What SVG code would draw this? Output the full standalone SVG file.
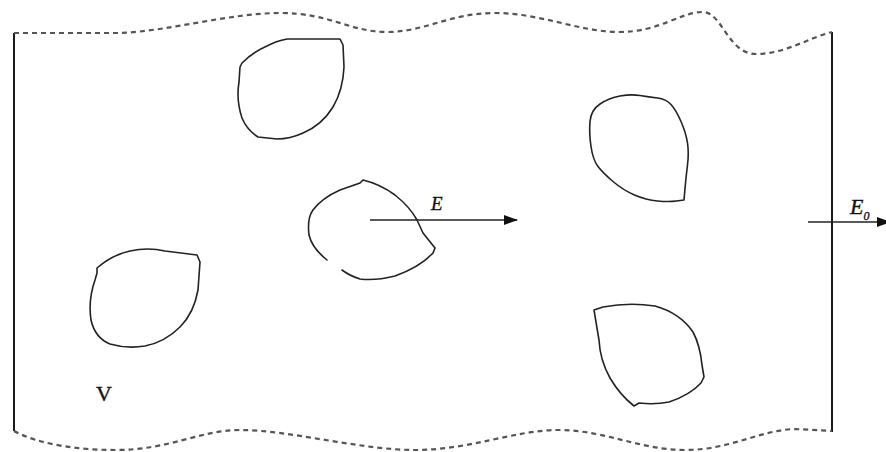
<svg xmlns="http://www.w3.org/2000/svg" width="886" height="452" viewBox="0 0 886 452">
<defs>
<style>
.wall{stroke:#1a1a1a;stroke-width:2;fill:none}
.dash{stroke:#555;stroke-width:2.2;fill:none;stroke-dasharray:5 4}
.blob{stroke:#222;stroke-width:1.6;fill:none;stroke-linejoin:round;stroke-linecap:round}
.arr{stroke:#222;stroke-width:1.6;fill:none}
.lbl{font-family:"Liberation Serif","Times New Roman",serif;fill:#111;stroke:#111;stroke-width:0.35}
</style>
<marker id="ah" viewBox="0 0 14 10" refX="13" refY="5" markerWidth="14" markerHeight="10" markerUnits="userSpaceOnUse" orient="auto">
<path d="M0,0 L14,5 L0,10 Z" fill="#111"/>
</marker>
</defs>
<rect width="886" height="452" fill="#fff"/>
<g id="boundary">
<line class="wall" x1="14" y1="33" x2="14" y2="431"/>
<line class="wall" x1="832" y1="32" x2="832" y2="432"/>
<path class="dash" d="M14,33 L120,33 C170,31 230,13 280,13 C330,13 350,32 387,32 C425,32 450,13 495,13 C540,13 580,32 619,32 C660,32 680,12 703,12 C722,12 728,54 756,54 C785,54 808,38 832,32"/>
<path class="dash" d="M14,431 C40,445 80,450 115,450 C170,450 200,430 240,430 C290,430 360,450 415,450 C470,450 515,430 558,430 C605,430 640,450 685,450 C730,450 760,430 795,429 L832,431"/>
</g>
<g id="inclusion-1">
<path class="blob" d="M242,63 Q253,52 267,46 Q276,41 287,39 L340,39 L343,45 L344,67 Q343,90 333,107 Q322,125 303,133 Q290,139 277,139 L258,137 Q247,130 242,118 Q236,100 239,82 L240,67 Z"/>
</g>
<g id="inclusion-2">
<path class="blob" d="M590,121.5 Q591,110 600,104 Q609,98 620,96 Q631,94 640,95.5 Q649,97 657.5,98 Q666,99 671,104.5 Q676,110 681,121.5 Q686,133 687.5,143 Q689,153 687.5,165 Q686,177 685,188.5 L684,200 L676.5,201 Q669,202 657.5,201 Q646,200 634.5,195 Q623,190 613,181.5 Q603,173 598,166.5 Q593,160 591,146.5 Q589,133 590,121.5 Z"/>
</g>
<g id="inclusion-3">
<path class="blob" d="M327,260 Q312,248 309,235 Q307,218 313,210 Q322,198 340,190 L360,183 L363,180 Q380,184 395,195 Q410,207 417,220 L423,233 L435,248 L433,253 Q420,267 395,276 Q375,281 360,279 Q350,276 342,270"/>
</g>
<g id="inclusion-4">
<path class="blob" d="M97,268 Q112,255 130,251 Q148,247 165,251 L197,255 L200,262 L198,290 Q194,313 180,327 Q165,342 145,346 Q127,349 110,344 Q95,338 91,320 Q88,300 95,280 L97,273 Z"/>
</g>
<g id="inclusion-5">
<path class="blob" d="M594,310 L603,307 Q629,302 655,306 Q680,313 693,332 Q700,345 702,365 L704,377 L701,383 Q690,395 669,402 Q655,405 639,403 L634,406 Q620,395 610,378 Q600,360 599,340 L594,310 Z"/>
</g>
<g id="connectors">
<line class="arr" x1="370" y1="220" x2="517" y2="220" marker-end="url(#ah)"/>
<line class="arr" x1="808" y1="222" x2="890" y2="222" marker-end="url(#ah)"/>
</g>
<g id="labels">
<text class="lbl" x="431" y="210" font-size="19" font-style="italic">E</text>
<text class="lbl" x="850" y="214" font-size="22" font-style="italic">E<tspan font-size="12" dy="6">0</tspan></text>
<text class="lbl" x="96" y="401" font-size="22">V</text>
</g>
</svg>
